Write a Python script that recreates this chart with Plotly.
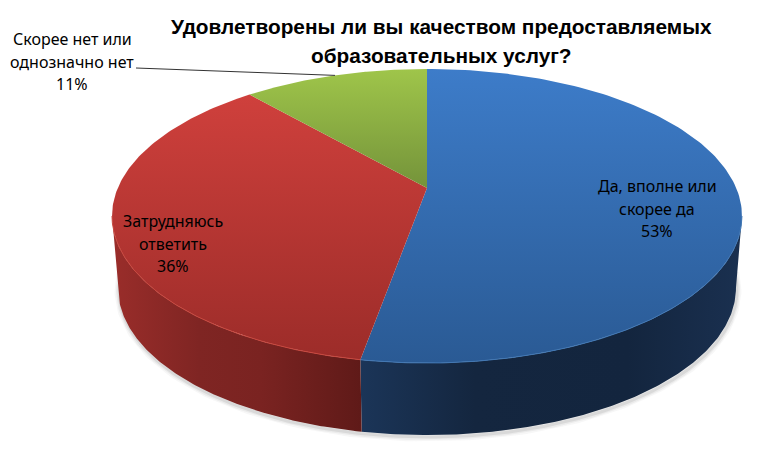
#Data
import numpy as np
import plotly.graph_objects as go

title_lines = ["Удовлетворены ли вы качеством предоставляемых", "образовательных услуг?"]
categories = [["Да, вполне или", "скорее да"], ["Затрудняюсь", "ответить"], ["Скорее нет или", "однозначно нет"]]
shares = [52.8, 35.8, 11.4]

#Colors
top_colors = [("#3d7cc9", "#2a5a94"), ("#cf403c", "#9c2c29"), ("#9fc54a", "#74933a")]
rim_colors = ["#4278b4", "#c8483f"]
side_red = [[0, "#9a2d2a"], [0.35, "#7f2523"], [0.6, "#7a2321"], [1, "#5f1a18"]]
side_blue = [[0, "#1b3558"], [0.3, "#14263f"], [0.7, "#13253e"], [1, "#1a3050"]]

#Disc geometry, in picture pixels (tilted disc seen in perspective)
cx, apex_y = 427, 188
A, B, k = 309.2, 141.7, 0.1905
side_scale, side_drop = 309 / 315, 72


def project(theta):
    u, v = np.sin(theta), np.cos(theta)
    w = 1 + k * v
    return cx + A * u / w, apex_y - B * v / w


def lower(theta):
    x, y = project(theta)
    return cx + (x - cx) * side_scale, y + side_drop


def arc(start, stop, n=160):
    return np.linspace(start, stop, n)


fractions = np.cumsum([0] + shares) / sum(shares) * 2 * np.pi
theta_right = np.arctan2(np.sqrt(1 - k * k), -k)
theta_left = 2 * np.pi - theta_right
split = fractions[1]

fig = go.Figure()

#Soft shadow under the disc
shadow_t = arc(theta_right - 0.12, theta_left + 0.12, 240)
sx, sy = lower(shadow_t)
for width, alpha in [(9, 0.05), (6, 0.07), (3, 0.12)]:
    fig.add_trace(go.Scatter(x=sx + 1, y=sy + 2, mode="lines", line=dict(color=f"rgba(90,90,90,{alpha})", width=width), hoverinfo="skip"))

#Side walls
for start, stop, scale in [(theta_right, split, side_blue), (split, theta_left, side_red)]:
    t = arc(start, stop)
    tx, ty = project(t)
    bx, by = lower(t)
    x = np.concatenate([tx, bx[::-1]])
    y = np.concatenate([ty, by[::-1]])
    fig.add_trace(go.Scatter(
        x=x, y=y, mode="lines", fill="toself", line=dict(width=0), hoverinfo="skip",
        fillgradient=dict(type="horizontal", colorscale=scale, start=x.min(), stop=x.max())
    ))

#Top slices
for i in range(3):
    t = arc(fractions[i], fractions[i + 1])
    rx, ry = project(t)
    x = np.concatenate([[cx], rx, [cx]])
    y = np.concatenate([[apex_y], ry, [apex_y]])
    c1, c2 = top_colors[i]
    fig.add_trace(go.Scatter(
        x=x, y=y, mode="lines", fill="toself", line=dict(width=0), hoverinfo="skip",
        fillgradient=dict(type="vertical", colorscale=[[0, c1], [1, c2]], start=y.min(), stop=y.max())
    ))

#Light rim on the front edge
for start, stop, color in [(theta_right, split, rim_colors[0]), (split, theta_left, rim_colors[1])]:
    rx, ry = project(arc(start, stop))
    fig.add_trace(go.Scatter(x=rx, y=ry, mode="lines", line=dict(color=color, width=1), hoverinfo="skip"))

#Leader line of the small slice
leader_end = project((fractions[2] + fractions[3]) / 2)
fig.add_trace(go.Scatter(x=[136, leader_end[0]], y=[68, leader_end[1]], mode="lines", line=dict(color="#333333", width=1), hoverinfo="skip"))


def add_text(x, y, text, size, family, bold=False):
    fig.add_annotation(x=x, y=y, text=f"<b>{text}</b>" if bold else text, showarrow=False, xanchor="center", yanchor="middle",
                       font=dict(family=family, size=size, color="#000000"))


for line, y in zip(title_lines, [26, 55]):
    add_text(441, y, line, 20.8, "Liberation Sans", bold=True)

label_x = [657, 173, 72]
label_y = [186, 221, 39]
for i, lines in enumerate(categories):
    for j, line in enumerate(lines + [f"{round(shares[i])}%"]):
        add_text(label_x[i], label_y[i] + j * 22.5, line, 16, "Noto Sans")

fig.update_layout(
    width=784,
    height=464,
    margin=dict(l=0, r=0, t=0, b=0),
    showlegend=False,
    paper_bgcolor="white",
    plot_bgcolor="white",
    xaxis=dict(range=[0, 784], visible=False, fixedrange=True),
    yaxis=dict(range=[464, 0], visible=False, fixedrange=True),
)
fig.write_html("out.html", config=dict(displayModeBar=False), post_script="document.body.style.margin='0';")
